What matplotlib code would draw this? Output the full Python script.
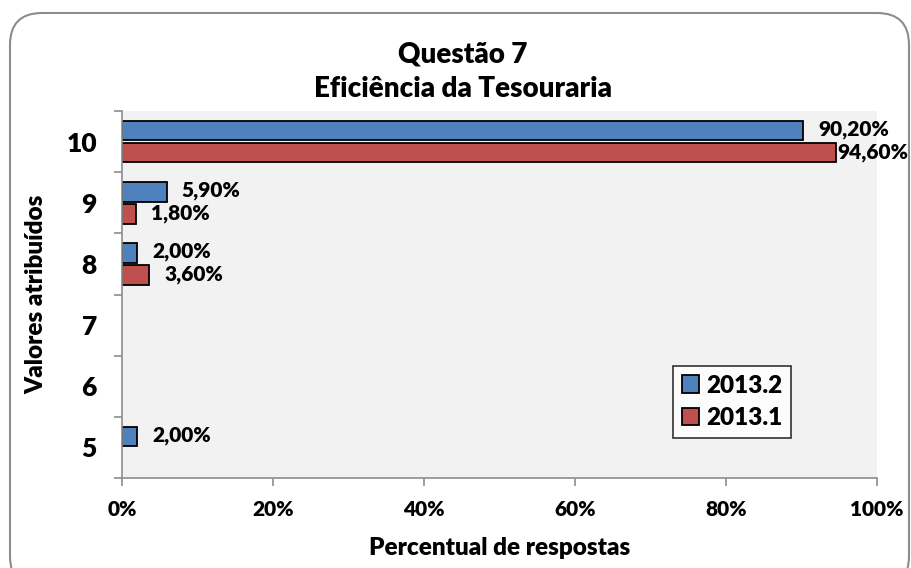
import numpy as np
import matplotlib
matplotlib.use("Agg")
import matplotlib.pyplot as plt
from matplotlib.patches import FancyBboxPatch

W = 'heavy'
plt.rcParams['font.family'] = ['Lato', 'DejaVu Sans']
plt.rcParams['font.weight'] = W

categories = ['5', '6', '7', '8', '9', '10']
serie_2013_2 = [2.0, np.nan, np.nan, 2.0, 5.9, 90.2]
serie_2013_1 = [np.nan, np.nan, np.nan, 3.6, 1.8, 94.6]
labels_2013_2 = ['2,00%', '', '', '2,00%', '5,90%', '90,20%']
labels_2013_1 = ['', '', '', '3,60%', '1,80%', '94,60%']
xticks = [0, 20, 40, 60, 80, 100]
xticklabels = ['0%', '20%', '40%', '60%', '80%', '100%']

blue = '#4F81BD'
red = '#C0504D'

fig = plt.figure(figsize=(9.12, 5.68), dpi=100)
ax = fig.add_axes([122/912, 1-478/568, (877-122)/912, (478-111)/568])
ax.set_facecolor('#F2F2F2')

border = FancyBboxPatch((10/912, -20/568), (899/912), (575/568),
                        boxstyle="round,pad=0,rounding_size=0.035",
                        transform=fig.transFigure, fill=False,
                        edgecolor='#8C8C8C', linewidth=1.5, zorder=0,
                        mutation_aspect=912/568)
fig.patches.append(border)

y = np.arange(len(categories))
h = 0.32
off = 0.18
b1 = ax.barh(y + off, serie_2013_2, height=h, color=blue, edgecolor='black', linewidth=1.3, label='2013.2')
b2 = ax.barh(y - off, serie_2013_1, height=h, color=red, edgecolor='black', linewidth=1.3, label='2013.1')

for yy, v, t in zip(y + off, serie_2013_2, labels_2013_2):
    if t:
        ax.annotate(t, (v, yy), xytext=(11, 1), textcoords='offset points',
                    va='center', ha='left', fontsize=15, fontweight=W, annotation_clip=False)
for yy, v, t in zip(y - off, serie_2013_1, labels_2013_1):
    if t:
        dx = 1.0 if v > 92 else 11
        ax.annotate(t, (v, yy), xytext=(dx, 0), textcoords='offset points',
                    va='center', ha='left', fontsize=15, fontweight=W, annotation_clip=False)

ax.set_xlim(0, 100)
ax.set_ylim(-0.5, len(categories) - 0.5)
ax.set_xticks(xticks)
ax.set_xticklabels(xticklabels, fontsize=15, fontweight=W)
ax.set_yticks(y)
ax.set_yticklabels(categories, fontsize=19, fontweight=W)
ax.set_yticks(np.arange(len(categories) + 1) - 0.5, minor=True)
ax.tick_params(axis='y', which='major', length=0, pad=18)
ax.tick_params(axis='y', which='minor', length=6, color='#8C8C8C', width=1.2)
ax.tick_params(axis='x', which='major', length=6, color='#8C8C8C', width=1.2, pad=10)

for s in ['top', 'right']:
    ax.spines[s].set_visible(False)
for s in ['left', 'bottom']:
    ax.spines[s].set_color('#8C8C8C')
    ax.spines[s].set_linewidth(1.2)

ax.set_xlabel('Percentual de respostas', fontsize=17.5, fontweight=W, labelpad=13)
ax.set_ylabel('Valores atribuídos', fontsize=17.5, fontweight=W, labelpad=14)

fig.text(463/912, 1-55/568, 'Questão 7', ha='center', va='center', fontsize=20, fontweight=W)
fig.text(463/912, 1-89/568, 'Eficiência da Tesouraria', ha='center', va='center', fontsize=20, fontweight=W)

leg = ax.legend(handles=[b1, b2], loc='upper left', bbox_to_anchor=((673-122)/755, 1-(366-111)/367),
                borderaxespad=0,
                frameon=True, fancybox=False, edgecolor='black',
                handlelength=0.7, handleheight=0.7, handletextpad=0.3, borderpad=0.35,
                labelspacing=0.45, prop={'weight': W, 'size': 17.5})
leg.get_frame().set_linewidth(1.2)
leg.get_frame().set_facecolor('white')

fig.savefig('out.png', dpi=100)
